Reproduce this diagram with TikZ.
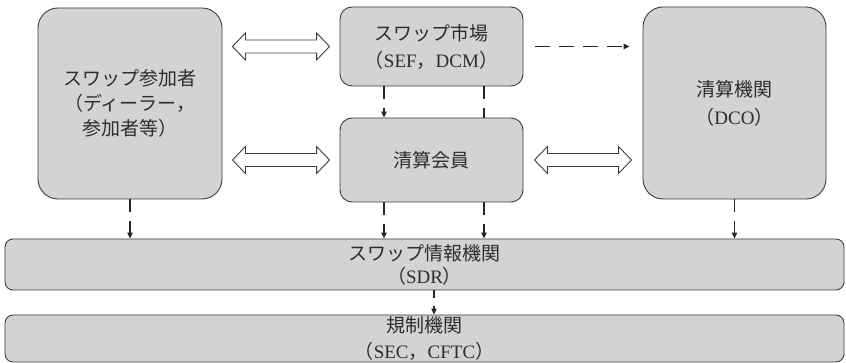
\documentclass[tikz,border=0pt]{standalone}
\usepackage{fontspec}
\setmainfont{Liberation Serif}
\newfontfamily\jp{Noto Sans CJK JP}
\usetikzlibrary{arrows.meta,calc}
\definecolor{boxfill}{RGB}{210,211,213}
\definecolor{boxline}{RGB}{60,60,60}
\definecolor{txt}{RGB}{45,45,45}
\newcommand\J[1]{{\jp #1}}
\newcommand\dbl[2]{\path[draw=boxline, fill=white, line width=0.9pt] let \p1=#1, \p2=#2 in
  (\x1,\y1) -- (\x1+13pt,\y1+13.5pt) -- (\x1+13pt,\y1+6.5pt) -- (\x2-13pt,\y1+6.5pt) --
  (\x2-13pt,\y1+13.5pt) -- (\x2,\y1) -- (\x2-13pt,\y1-13.5pt) -- (\x2-13pt,\y1-6.5pt) --
  (\x1+13pt,\y1-6.5pt) -- (\x1+13pt,\y1-13.5pt) -- cycle;}
\begin{document}
\begin{tikzpicture}[x=1pt,y=-1pt,
  box/.style={draw=boxline, fill=boxfill, line width=0.9pt, rounded corners=#1,
    align=center, text=txt, inner sep=0pt},
  box/.default=12pt,
  fs/.style={font=\fontsize{19pt}{#1}\selectfont},
  flow/.style={draw=black!85, line width=1.2pt, dash pattern=on 13pt off 9pt,
    -{Triangle[length=6pt,width=5.5pt]}},
  plain/.style={draw=black!85, line width=1.2pt, dash pattern=on 13pt off 9pt}]
\useasboundingbox (0,0) rectangle (846,363);

\node[box=20pt, fs=25pt, minimum width=184pt, minimum height=191pt] (part) at (130,103.5)
  {\J{スワップ参加者}\\\J{（ディーラー，}\\\J{参加者等）}};
\node[box=12pt, fs=27pt, minimum width=183pt, minimum height=79pt] (mkt) at (431.5,46.5)
  {\J{スワップ市場}\\\J{（}SEF\J{，}DCM\J{）}};
\node[box=12pt, fs=26pt, minimum width=183pt, minimum height=84pt] (cm) at (431.5,160)
  {\J{清算会員}};
\node[box=20pt, fs=28pt, minimum width=183pt, minimum height=192pt] (dco) at (734.5,103)
  {\J{清算機関}\\\J{（}DCO\J{）}};
\node[box=8pt, fs=23pt, minimum width=839pt, minimum height=51pt] (sdr) at (424.5,264.5)
  {\J{スワップ情報機関}\\\J{（}SDR\J{）}};
\node[box=8pt, fs=26pt, minimum width=839pt, minimum height=47pt] (reg) at (424.5,338.5)
  {\J{規制機関}\\\J{（}SEC\J{，}CFTC\J{）}};

% double arrows
\dbl{($(part.east|-mkt.west)+(10,0)$)}{($(mkt.west)+(-10,0)$)}
\dbl{($(part.east|-cm.west)+(10,0)$)}{($(cm.west)+(-10,0)$)}
\dbl{($(cm.east)+(11,0)$)}{($(cm.east-|dco.west)+(-11,0)$)}

% dashed arrows
\draw[flow, dash pattern=on 15pt off 9pt] ($(mkt.east)+(12,0)$) -- ($(mkt.east-|dco.west)+(-13,0)$);
\coordinate (m1) at ([xshift=-47.5pt]mkt.south);
\coordinate (m2) at ([xshift=52.5pt]mkt.south);
\coordinate (c1) at ([xshift=-47.5pt]cm.south);
\coordinate (c2) at ([xshift=52.5pt]cm.south);
\coordinate (s1) at ([xshift=9.5pt]sdr.south);
\draw[flow] (m1) -- (m1|-cm.north);
\draw[plain] (m2) -- (m2|-cm.north);
\draw[flow] (part.south) -- (part.south|-sdr.north);
\draw[flow] (c1) -- (c1|-sdr.north);
\draw[flow] (c2) -- (c2|-sdr.north);
\draw[flow] (dco.south) -- (dco.south|-sdr.north);
\draw[flow, dash pattern=on 8pt off 8pt] (s1) -- (s1|-reg.north);
\end{tikzpicture}
\end{document}
